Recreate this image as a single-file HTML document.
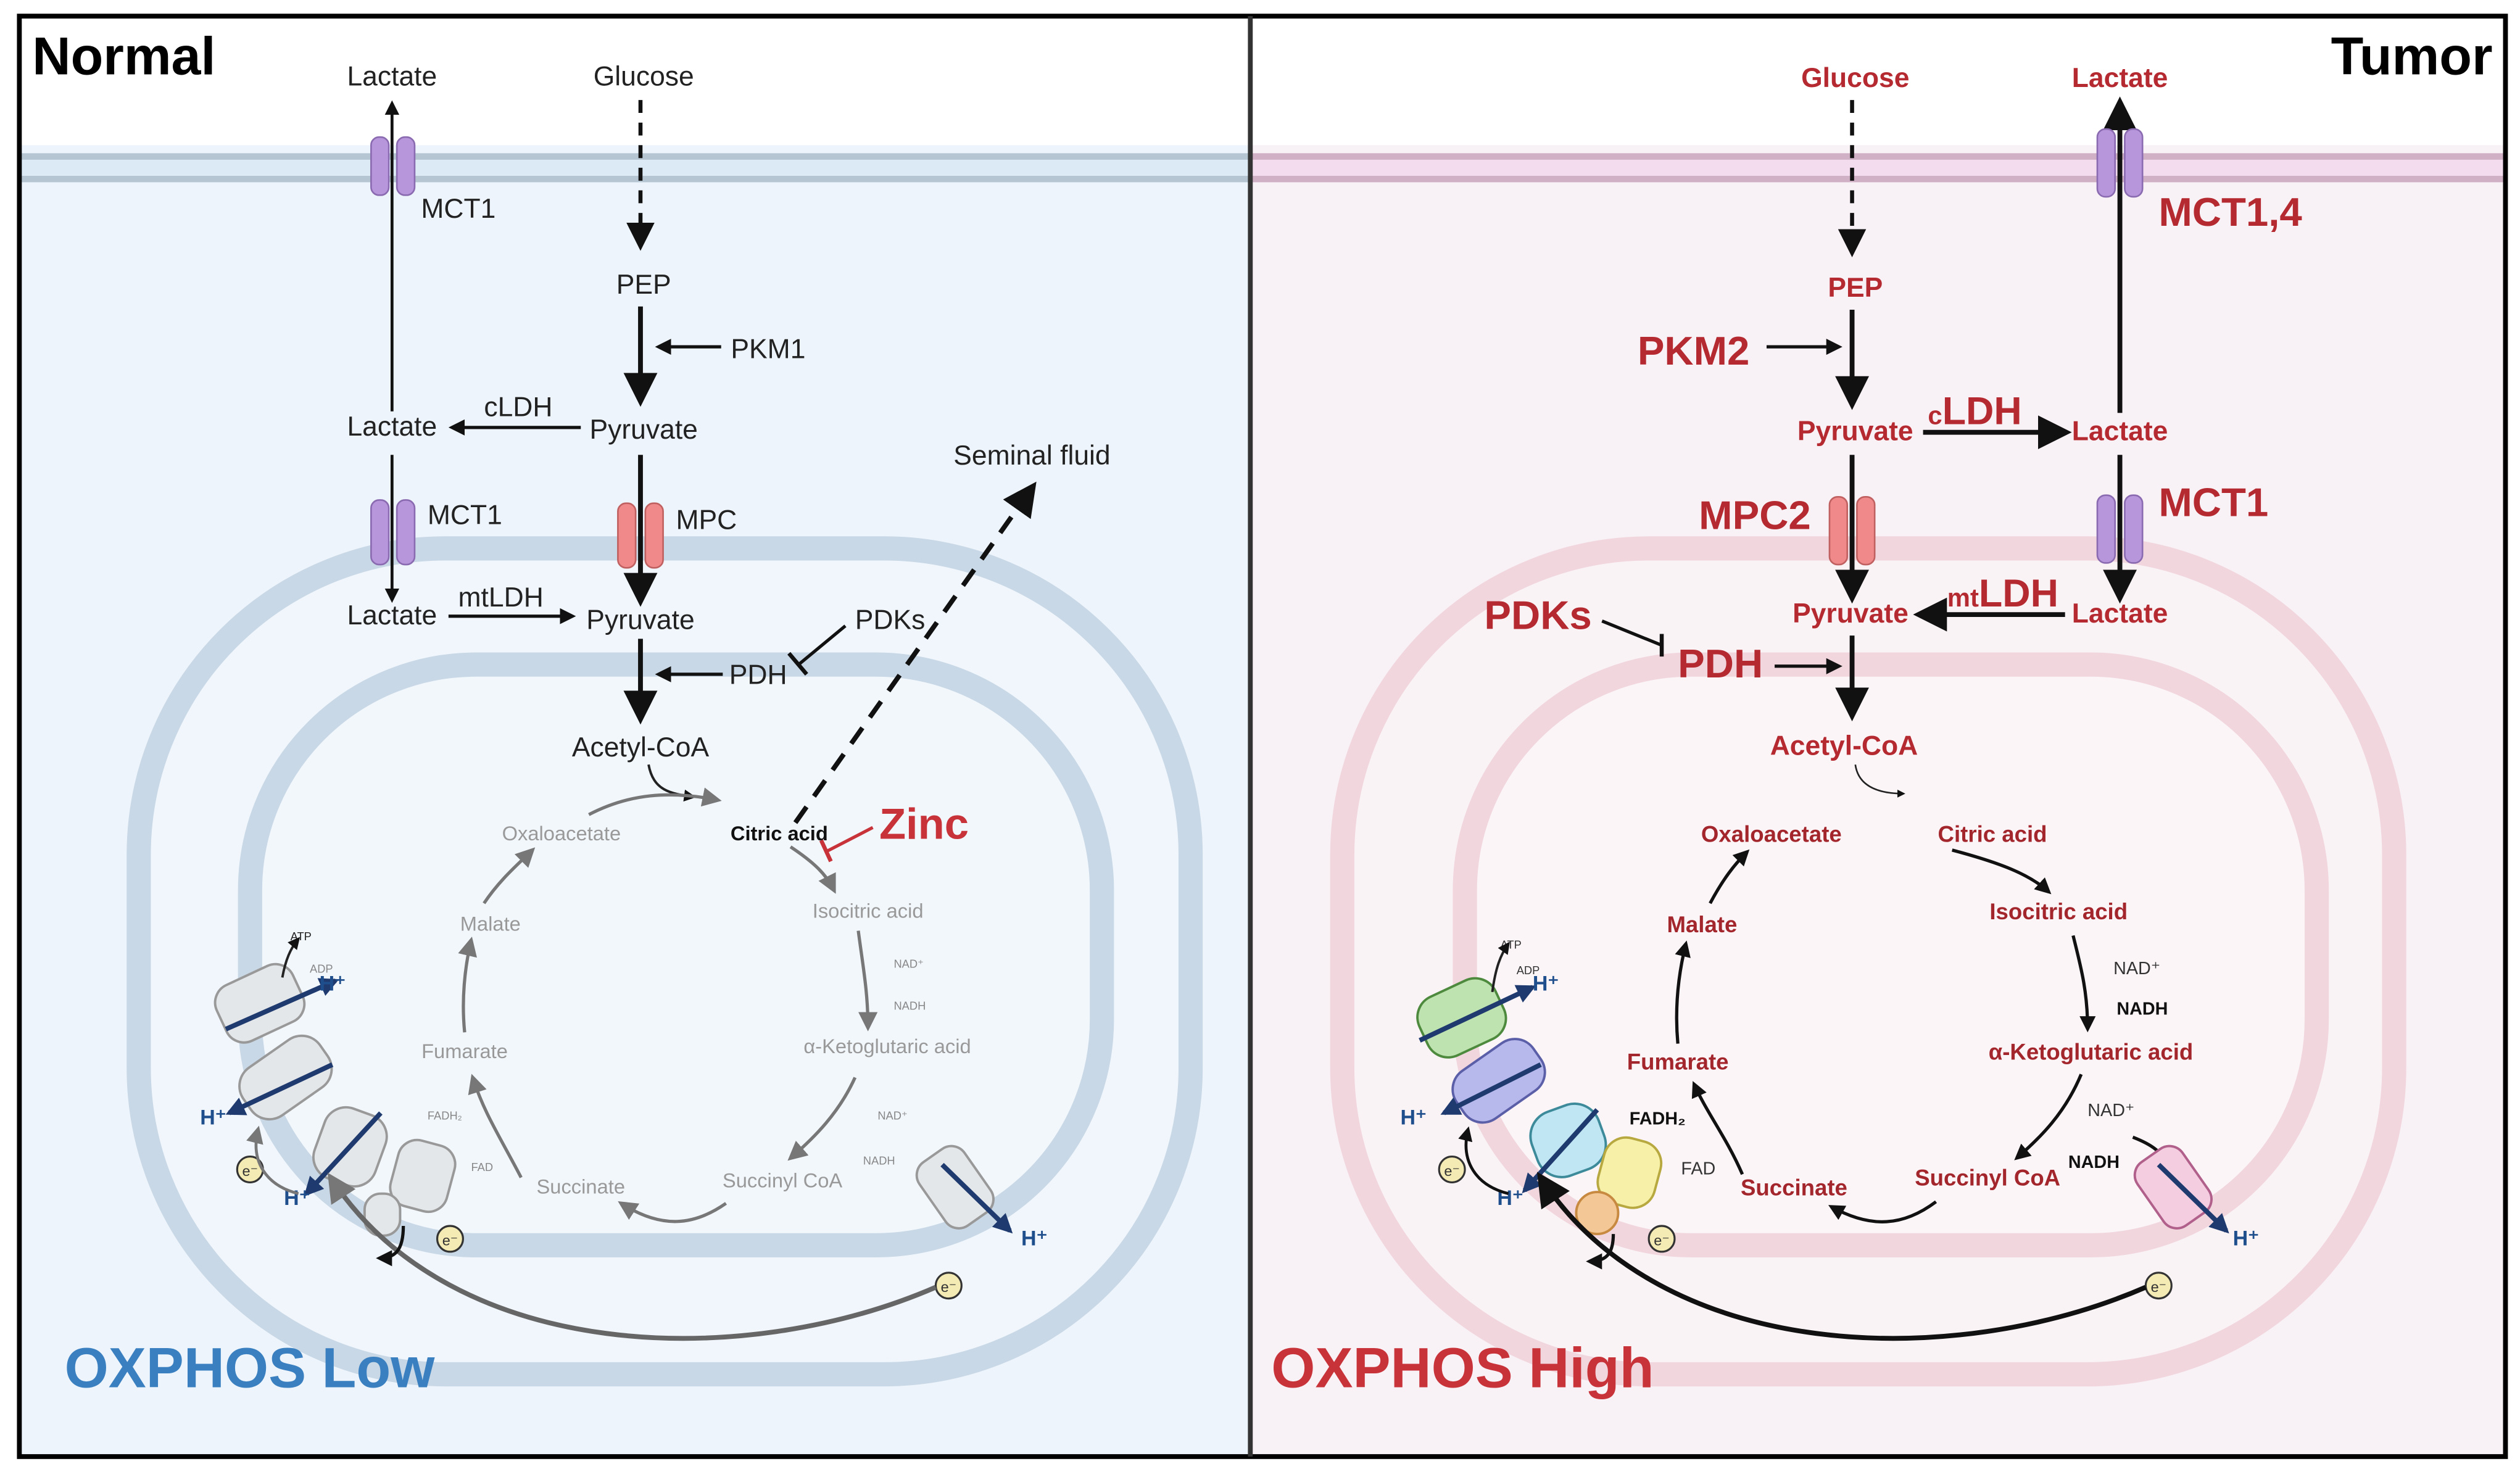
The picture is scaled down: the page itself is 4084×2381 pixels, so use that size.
<!DOCTYPE html>
<html><head><meta charset="utf-8"><style>
html,body{margin:0;padding:0;background:#fff}
svg{display:block}
text{font-family:"Liberation Sans",sans-serif}
</style></head><body>
<svg width="4084" height="2381" viewBox="0 0 1562 910.7" preserveAspectRatio="none" xmlns="http://www.w3.org/2000/svg">
<defs>
<marker id="ab" viewBox="0 0 10 10" refX="8" refY="5" markerWidth="5" markerHeight="5" orient="auto-start-reverse"><path d="M0,0L10,5L0,10z" fill="#111"/></marker>
<marker id="as" viewBox="0 0 10 10" refX="8" refY="5" markerWidth="7" markerHeight="7" orient="auto"><path d="M0,0L10,5L0,10z" fill="#111"/></marker>
<marker id="ag" viewBox="0 0 10 10" refX="8" refY="5" markerWidth="6" markerHeight="6" orient="auto"><path d="M0,0L10,5L0,10z" fill="#777"/></marker>
<marker id="an" viewBox="0 0 10 10" refX="8" refY="5" markerWidth="4" markerHeight="4" orient="auto"><path d="M0,0L10,5L0,10z" fill="#1f3a6e"/></marker>
</defs>
<rect x="0" y="0" width="1562" height="911" fill="#fff"/>
<rect x="12" y="90" width="763" height="813" fill="#eef4fb"/>
<rect x="12" y="95" width="763" height="18" fill="#dceaf5"/>
<line x1="12" y1="97" x2="775" y2="97" stroke="#b5c6d2" stroke-width="4"/>
<line x1="12" y1="111" x2="775" y2="111" stroke="#b5c6d2" stroke-width="4"/>
<rect x="775" y="90" width="778" height="813" fill="#f8f1f5"/>
<rect x="775" y="95" width="778" height="18" fill="#f2dcee"/>
<line x1="775" y1="97" x2="1553" y2="97" stroke="#cfb0c4" stroke-width="4"/>
<line x1="775" y1="111" x2="1553" y2="111" stroke="#cfb0c4" stroke-width="4"/>
<rect x="86" y="340" width="652" height="512" rx="190" fill="#f0f6fc" stroke="#c9d8e6" stroke-width="15"/>
<rect x="155" y="412" width="528" height="360" rx="140" fill="#f2f7fc" stroke="#c9d8e6" stroke-width="15"/>
<rect x="832" y="340" width="652" height="512" rx="190" fill="#faf3f6" stroke="#f1d6de" stroke-width="15"/>
<rect x="908" y="412" width="528" height="360" rx="140" fill="#fbf5f8" stroke="#f1d6de" stroke-width="15"/>
<rect x="12" y="10" width="1541" height="893" fill="none" stroke="#000" stroke-width="3"/>
<line x1="775" y1="10" x2="775" y2="903" stroke="#333" stroke-width="3"/>

<g font-size="17" fill="#222">
<text x="20" y="46" font-size="33" font-weight="bold" fill="#000">Normal</text>
<text x="243" y="53" text-anchor="middle">Lactate</text>
<text x="399" y="53" text-anchor="middle">Glucose</text>
<text x="261" y="135">MCT1</text>
<text x="399" y="182" text-anchor="middle">PEP</text>
<text x="453" y="222">PKM1</text>
<text x="243" y="270" text-anchor="middle">Lactate</text>
<text x="300" y="258">cLDH</text>
<text x="399" y="272" text-anchor="middle">Pyruvate</text>
<text x="591" y="288">Seminal fluid</text>
<text x="265" y="325">MCT1</text>
<text x="419" y="328">MPC</text>
<text x="243" y="387" text-anchor="middle">Lactate</text>
<text x="284" y="376">mtLDH</text>
<text x="397" y="390" text-anchor="middle">Pyruvate</text>
<text x="530" y="390">PDKs</text>
<text x="452" y="424">PDH</text>
<text x="397" y="469" text-anchor="middle">Acetyl-CoA</text>
</g>
<line x1="243" y1="255" x2="243" y2="64" stroke="#111" stroke-width="1.8" marker-end="url(#ab)"/>
<line x1="243" y1="282" x2="243" y2="372" stroke="#111" stroke-width="1.8" marker-end="url(#ab)"/>
<line x1="397" y1="62" x2="397" y2="152" stroke="#111" stroke-width="2.5" stroke-dasharray="8,6" marker-end="url(#as)"/>
<line x1="397" y1="190" x2="397" y2="248" stroke="#111" stroke-width="3" marker-end="url(#as)"/>
<line x1="447" y1="215" x2="408" y2="215" stroke="#111" stroke-width="2" marker-end="url(#ab)"/>
<line x1="360" y1="265" x2="280" y2="265" stroke="#111" stroke-width="2" marker-end="url(#ab)"/>
<line x1="397" y1="282" x2="397" y2="372" stroke="#111" stroke-width="3" marker-end="url(#as)"/>
<line x1="278" y1="382" x2="355" y2="382" stroke="#111" stroke-width="2" marker-end="url(#ab)"/>
<line x1="397" y1="396" x2="397" y2="445" stroke="#111" stroke-width="3" marker-end="url(#as)"/>
<line x1="448" y1="418" x2="408" y2="418" stroke="#111" stroke-width="2" marker-end="url(#ab)"/>
<path d="M524,388 L495,412" stroke="#111" stroke-width="2" fill="none"/>
<line x1="489" y1="405" x2="500" y2="418" stroke="#111" stroke-width="2.5"/>
<path d="M493,510 L640,302" stroke="#111" stroke-width="3" stroke-dasharray="12,8" fill="none" marker-end="url(#as)"/>
<path d="M402,474 C405,490 415,492 430,494" stroke="#222" stroke-width="1.5" fill="none" marker-end="url(#ab)"/>
<g fill="#b896dc" stroke="#8a6ab0" stroke-width="1">
<rect x="230" y="85" width="11" height="36" rx="5"/><rect x="246" y="85" width="11" height="36" rx="5"/>
<rect x="230" y="310" width="11" height="40" rx="5"/><rect x="246" y="310" width="11" height="40" rx="5"/>
</g>
<g fill="#f08a8a" stroke="#c06060" stroke-width="1">
<rect x="383" y="312" width="11" height="40" rx="5"/><rect x="400" y="312" width="11" height="40" rx="5"/>
</g>
<g font-size="12.5" fill="#999">
<text x="348" y="521" text-anchor="middle">Oxaloacetate</text>
<text x="483" y="521" text-anchor="middle" fill="#111" font-weight="bold">Citric acid</text>
<text x="538" y="569" text-anchor="middle">Isocitric acid</text>
<text x="304" y="577" text-anchor="middle">Malate</text>
<text x="550" y="653" text-anchor="middle">α-Ketoglutaric acid</text>
<text x="288" y="656" text-anchor="middle">Fumarate</text>
<text x="360" y="740" text-anchor="middle">Succinate</text>
<text x="485" y="736" text-anchor="middle">Succinyl CoA</text>
<g font-size="7" fill="#888"><text x="554" y="600">NAD⁺</text><text x="554" y="626">NADH</text><text x="544" y="694">NAD⁺</text><text x="535" y="722">NADH</text><text x="265" y="694">FADH₂</text><text x="292" y="726">FAD</text><text x="180" y="583" fill="#222">ATP</text><text x="192" y="603">ADP</text></g>
</g>
<text x="545" y="520" font-size="27" font-weight="bold" fill="#c8333a">Zinc</text>
<line x1="541" y1="513" x2="512" y2="528" stroke="#c8333a" stroke-width="2"/>
<line x1="509" y1="521" x2="515" y2="534" stroke="#c8333a" stroke-width="2.5"/>
<g stroke="#777" stroke-width="2" fill="none">
<path d="M365,505 C390,492 415,490 445,496" marker-end="url(#ag)"/>
<path d="M490,525 C505,535 512,542 517,552" marker-end="url(#ag)"/>
<path d="M532,577 C535,600 538,615 538,637" marker-end="url(#ag)"/>
<path d="M530,668 C520,690 505,705 490,718" marker-end="url(#ag)"/>
<path d="M450,746 C430,760 410,762 385,746" marker-end="url(#ag)"/>
<path d="M323,730 C310,705 300,690 293,668" marker-end="url(#ag)"/>
<path d="M288,640 C286,620 288,600 292,583" marker-end="url(#ag)"/>
<path d="M300,560 C310,545 322,535 330,527" marker-end="url(#ag)"/>
</g>
<g fill="#e4e7ea" stroke="#999" stroke-width="1.5">
<rect x="135" y="603" width="52" height="38" rx="12" transform="rotate(-25 161 622)"/>
<rect x="148" y="650" width="58" height="36" rx="14" transform="rotate(-35 177 668)"/>
<rect x="197" y="688" width="40" height="46" rx="14" transform="rotate(20 217 711)"/>
<rect x="244" y="708" width="36" height="42" rx="12" transform="rotate(15 262 729)"/>
<rect x="226" y="740" width="22" height="26" rx="10"/>
<rect x="575" y="712" width="34" height="48" rx="10" transform="rotate(-35 592 736)"/>
</g>
<g stroke="#1f3a6e" stroke-width="3" marker-end="url(#an)">
<line x1="140" y1="638" x2="208" y2="608"/>
<line x1="206" y1="660" x2="142" y2="690"/>
<line x1="236" y1="690" x2="190" y2="740"/>
<line x1="584" y1="722" x2="626" y2="763"/>
</g>
<g font-size="13" font-weight="bold" fill="#1f4e8c"><text x="198" y="614">H⁺</text><text x="124" y="697">H⁺</text><text x="176" y="747">H⁺</text><text x="633" y="772">H⁺</text></g>
<g fill="#f4ebb4" stroke="#333" stroke-width="1.2"><circle cx="155" cy="725" r="8"/><circle cx="279" cy="768" r="8"/><circle cx="588" cy="797" r="8"/></g>
<g font-size="9" fill="#333" text-anchor="middle"><text x="155" y="729">e⁻</text><text x="279" y="772">e⁻</text><text x="588" y="801">e⁻</text></g>
<path d="M580,798 C460,850 280,845 205,730" stroke="#666" stroke-width="3" fill="none" marker-end="url(#ag)"/>
<path d="M175,606 C177,595 180,588 185,582" stroke="#222" stroke-width="1.5" fill="none" marker-end="url(#ab)"/>
<path d="M185,740 C165,735 155,720 160,700" stroke="#777" stroke-width="1.8" fill="none" marker-end="url(#ag)"/>
<path d="M250,760 C250,775 245,780 235,780" stroke="#111" stroke-width="2" fill="none" marker-end="url(#ab)"/>
<text x="40" y="860" font-size="35" font-weight="bold" fill="#3a80c0">OXPHOS Low</text>

<g font-size="17" font-weight="bold" fill="#b52a30">
<text x="1545" y="46" font-size="33" fill="#000" text-anchor="end">Tumor</text>
<text x="1150" y="54" text-anchor="middle">Glucose</text>
<text x="1314" y="54" text-anchor="middle">Lactate</text>
<text x="1338" y="140" font-size="25">MCT1,4</text>
<text x="1150" y="184" text-anchor="middle">PEP</text>
<text x="1015" y="226" font-size="25">PKM2</text>
<text x="1150" y="273" text-anchor="middle">Pyruvate</text>
<text x="1195" y="263" font-size="24"><tspan font-size="16">c</tspan>LDH</text>
<text x="1314" y="273" text-anchor="middle">Lactate</text>
<text x="1053" y="328" font-size="25">MPC2</text>
<text x="1338" y="320" font-size="25">MCT1</text>
<text x="920" y="390" font-size="25">PDKs</text>
<text x="1147" y="386" text-anchor="middle">Pyruvate</text>
<text x="1207" y="376" font-size="24"><tspan font-size="16">mt</tspan>LDH</text>
<text x="1314" y="386" text-anchor="middle">Lactate</text>
<text x="1040" y="420" font-size="25">PDH</text>
<text x="1143" y="468" text-anchor="middle">Acetyl-CoA</text>
</g>
<line x1="1148" y1="62" x2="1148" y2="156" stroke="#111" stroke-width="2.5" stroke-dasharray="8,6" marker-end="url(#as)"/>
<line x1="1148" y1="192" x2="1148" y2="250" stroke="#111" stroke-width="3" marker-end="url(#as)"/>
<line x1="1095" y1="215" x2="1140" y2="215" stroke="#111" stroke-width="2" marker-end="url(#ab)"/>
<line x1="1148" y1="282" x2="1148" y2="370" stroke="#111" stroke-width="3" marker-end="url(#as)"/>
<line x1="1192" y1="268" x2="1280" y2="268" stroke="#111" stroke-width="3" marker-end="url(#as)"/>
<line x1="1314" y1="256" x2="1314" y2="64" stroke="#111" stroke-width="3" marker-end="url(#as)"/>
<line x1="1314" y1="282" x2="1314" y2="370" stroke="#111" stroke-width="3" marker-end="url(#as)"/>
<line x1="1280" y1="381" x2="1190" y2="381" stroke="#111" stroke-width="3" marker-end="url(#as)"/>
<line x1="1148" y1="394" x2="1148" y2="443" stroke="#111" stroke-width="3" marker-end="url(#as)"/>
<line x1="1100" y1="413" x2="1140" y2="413" stroke="#111" stroke-width="2" marker-end="url(#ab)"/>
<line x1="993" y1="385" x2="1030" y2="400" stroke="#111" stroke-width="2"/>
<line x1="1030" y1="393" x2="1030" y2="407" stroke="#111" stroke-width="2.5"/>
<path d="M1150,474 C1152,488 1165,492 1180,492" stroke="#222" stroke-width="1" fill="none" marker-end="url(#ab)"/>
<g fill="#b896dc" stroke="#8a6ab0" stroke-width="1">
<rect x="1300" y="80" width="11" height="42" rx="5"/><rect x="1317" y="80" width="11" height="42" rx="5"/>
<rect x="1300" y="307" width="11" height="42" rx="5"/><rect x="1317" y="307" width="11" height="42" rx="5"/>
</g>
<g fill="#f08a8a" stroke="#c06060" stroke-width="1">
<rect x="1134" y="308" width="11" height="42" rx="5"/><rect x="1151" y="308" width="11" height="42" rx="5"/>
</g>
<g font-size="14" font-weight="bold" fill="#a3262c">
<text x="1098" y="522" text-anchor="middle">Oxaloacetate</text>
<text x="1235" y="522" text-anchor="middle">Citric acid</text>
<text x="1276" y="570" text-anchor="middle">Isocitric acid</text>
<text x="1055" y="578" text-anchor="middle">Malate</text>
<text x="1296" y="657" text-anchor="middle">α-Ketoglutaric acid</text>
<text x="1040" y="663" text-anchor="middle">Fumarate</text>
<text x="1112" y="741" text-anchor="middle">Succinate</text>
<text x="1232" y="735" text-anchor="middle">Succinyl CoA</text>
</g>
<g font-size="11" fill="#333"><text x="1310" y="604">NAD⁺</text><text x="1312" y="629" font-weight="bold" fill="#111">NADH</text><text x="1294" y="692">NAD⁺</text><text x="1282" y="724" font-weight="bold" fill="#111">NADH</text><text x="1010" y="697" font-weight="bold" fill="#111">FADH₂</text><text x="1042" y="728">FAD</text><text x="930" y="588" font-size="7">ATP</text><text x="940" y="604" font-size="7">ADP</text></g>
<g stroke="#111" stroke-width="2" fill="none">
<path d="M1210,527 C1240,535 1258,542 1270,553" marker-end="url(#ab)"/>
<path d="M1285,580 C1290,600 1294,615 1294,638" marker-end="url(#ab)"/>
<path d="M1290,666 C1280,690 1265,705 1250,718" marker-end="url(#ab)"/>
<path d="M1200,745 C1180,760 1160,762 1135,748" marker-end="url(#ab)"/>
<path d="M1080,728 C1070,705 1058,690 1050,672" marker-end="url(#ab)"/>
<path d="M1040,647 C1038,625 1040,605 1045,585" marker-end="url(#ab)"/>
<path d="M1060,560 C1068,545 1075,536 1083,528" marker-end="url(#ab)"/>
<path d="M1322,705 C1335,710 1340,715 1342,720"/>
</g>
<g stroke-width="1.5">
<rect x="880" y="611" width="52" height="40" rx="14" fill="#bfe3b0" stroke="#4e8a3e" transform="rotate(-25 906 631)"/>
<rect x="900" y="652" width="58" height="36" rx="14" fill="#b7b8ec" stroke="#5b5fa8" transform="rotate(-35 929 670)"/>
<rect x="950" y="686" width="44" height="42" rx="16" fill="#bfe6f2" stroke="#3c8a9a" transform="rotate(-20 972 707)"/>
<rect x="992" y="706" width="36" height="42" rx="14" fill="#f6f0a8" stroke="#b8a840" transform="rotate(15 1010 727)"/>
<circle cx="990" cy="752" r="13" fill="#f3c896" stroke="#c88a40"/>
<rect x="1330" y="712" width="34" height="48" rx="10" fill="#f4cde0" stroke="#b0608a" transform="rotate(-35 1347 736)"/>
</g>
<g stroke="#1f3a6e" stroke-width="3" marker-end="url(#an)">
<line x1="880" y1="645" x2="950" y2="612"/>
<line x1="955" y1="660" x2="895" y2="690"/>
<line x1="990" y1="688" x2="945" y2="738"/>
<line x1="1338" y1="722" x2="1380" y2="763"/>
</g>
<g font-size="13" font-weight="bold" fill="#1f4e8c"><text x="950" y="614">H⁺</text><text x="868" y="697">H⁺</text><text x="928" y="747">H⁺</text><text x="1384" y="772">H⁺</text></g>
<g fill="#f4ebb4" stroke="#333" stroke-width="1.2"><circle cx="900" cy="725" r="8"/><circle cx="1030" cy="768" r="8"/><circle cx="1338" cy="797" r="8"/></g>
<g font-size="9" fill="#333" text-anchor="middle"><text x="900" y="729">e⁻</text><text x="1030" y="772">e⁻</text><text x="1338" y="801">e⁻</text></g>
<path d="M1330,798 C1210,850 1030,845 955,730" stroke="#111" stroke-width="3" fill="none" marker-end="url(#as)"/>
<path d="M925,615 C927,600 930,592 935,585" stroke="#222" stroke-width="1.5" fill="none" marker-end="url(#ab)"/>
<path d="M935,740 C915,735 905,720 910,700" stroke="#111" stroke-width="1.8" fill="none" marker-end="url(#ab)"/>
<path d="M1000,765 C1000,778 995,782 985,782" stroke="#111" stroke-width="2" fill="none" marker-end="url(#ab)"/>
<text x="788" y="860" font-size="35" font-weight="bold" fill="#c8333a">OXPHOS High</text>
</svg>
</body></html>
